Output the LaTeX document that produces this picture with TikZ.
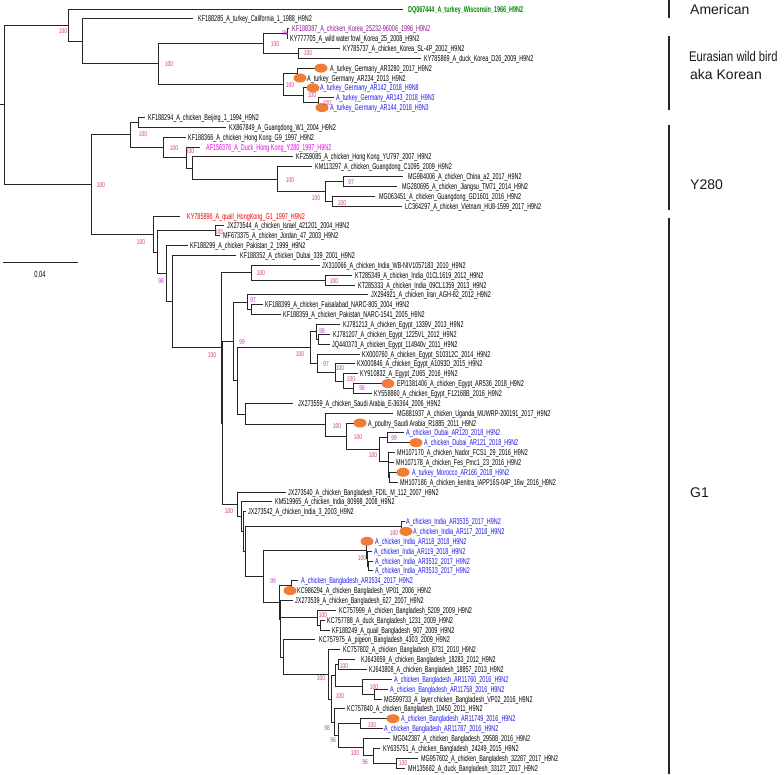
\documentclass[tikz,border=0pt]{standalone}
\usepackage{fontspec}
\setmainfont{Liberation Sans}
\newfontfamily\cond[FakeStretch=0.64]{Liberation Sans}
\newfontfamily\bscond[FakeStretch=0.7]{Liberation Sans}
\newfontfamily\cladecond[FakeStretch=0.8]{Liberation Sans}
\usetikzlibrary{shapes.geometric}
\definecolor{bhi}{RGB}{205,60,120}
\definecolor{blo}{RGB}{185,60,200}
\definecolor{lblue}{RGB}{25,25,225}
\definecolor{lgreen}{RGB}{0,135,0}
\definecolor{lpurple}{RGB}{140,20,140}
\definecolor{lmag}{RGB}{235,0,235}
\definecolor{lred}{RGB}{235,0,0}
\definecolor{mk}{RGB}{240,125,55}
\newcommand\tleaf[6]{%
  \coordinate (e#1) at (#3,#1);
  \draw[br] (#2) |- (e#1);
  \node[lab,#5] (L#1) at (#4,#1) {#6};}
\tikzset{
  br/.style={draw=black!85, line width=0.8pt},
  lab/.style={font=\cond\fontsize{8.5}{9}\selectfont, inner sep=0pt, anchor=base west, yshift=-3pt, text=black},
  bslab/.style={font=\bscond\fontsize{7}{8}\selectfont, inner sep=0pt, text=bhi},
  bslow/.style={bslab, text=blo},
  dotmk/.style={ellipse, fill=mk, draw=none, minimum width=13pt, minimum height=9pt, inner sep=0pt},
  cladetxt/.style={font=\fontsize{14}{16}\selectfont, anchor=west, inner sep=0pt, text=black!90},
  cladebar/.style={line width=1.1pt, black!85}
}
\begin{document}
\begin{tikzpicture}[x=1pt,y=-1pt]
\useasboundingbox (0,0) rectangle (784,774);
\begin{scope}[y=-9.857pt,yshift=0.857pt]
% ---------- internal nodes (x in px, y in leaf index) ----------
\coordinate (root) at (4,10.72);
\coordinate (r0) at (0,10.72);
\coordinate (n68) at (68,2.64);
\coordinate (n82) at (82,4.28);
\coordinate (n158) at (158,6.5625);
\coordinate (kor) at (263,4.5);
\coordinate (n288) at (287,3.5);
\coordinate (n298) at (298,5.5);
\coordinate (ger) at (283,8.625);
\coordinate (n302) at (297,7.5);
\coordinate (g2) at (303,9.75);
\coordinate (g3) at (318,10.5);
\coordinate (n91) at (91,18.8);
\coordinate (n130) at (130,13.77);
\coordinate (n138) at (138,12.5);
\coordinate (n163) at (163,15.03);
\coordinate (n186) at (186,16.06);
\coordinate (n192) at (192,17.125);
\coordinate (n277) at (277,18.25);
\coordinate (n325) at (325,19.5);
\coordinate (n343) at (343,18.5);
\coordinate (n332) at (332,20.5);
\coordinate (n153) at (153,23.84);
\coordinate (n157) at (157,25.67);
\coordinate (n215) at (215,23.5);
\coordinate (n166) at (166,27.84);
\coordinate (n172) at (172,30.69);
\coordinate (nE) at (221,35.37);
\coordinate (n251) at (251,27.75);
\coordinate (n325b) at (325,28.5);
\coordinate (nF) at (222.5,42.99);
\coordinate (n233) at (233,34.73);
\coordinate (n247) at (247,30.75);
\coordinate (n252) at (251,31.5);
\coordinate (n237) at (237,38.71);
\coordinate (egy) at (310,35.34);
\coordinate (n315) at (316,33.75);
\coordinate (n319) at (318,34.5);
\coordinate (n330) at (317,36.94);
\coordinate (n338) at (335,37.875);
\coordinate (n346b) at (343,38.75);
\coordinate (n355) at (353,39.5);
\coordinate (n246) at (245,42.08);
\coordinate (n325c) at (325,43.17);
\coordinate (n346c) at (346,44.34);
\coordinate (n380) at (379,45.69);
\coordinate (n387) at (387,44.5);
\coordinate (nM) at (388,46.875);
\coordinate (n47) at (388.5,47.75);
\coordinate (n48) at (389,48.5);
\coordinate (r50) at (237,51.25);
\coordinate (nP) at (241,52.5);
\coordinate (nQ) at (243,54.01);
\coordinate (nR) at (245,56.02);
\coordinate (n401) at (401,53.5);
\coordinate (n263) at (263,58.53);
\coordinate (nI1) at (366,55.875);
\coordinate (nI2) at (367,56.75);
\coordinate (nI3) at (368,57.5);
\coordinate (nBD) at (279,61.19);
\coordinate (n291) at (291,59.5);
\coordinate (nq) at (280,62.875);
\coordinate (nX) at (280.5,64.75);
\coordinate (nb) at (317,62.75);
\coordinate (na) at (320,63.5);
\coordinate (n283) at (283,66.75);
\coordinate (nB1) at (328,68.49);
\coordinate (nrest) at (331,70.99);
\coordinate (n337b) at (335,68.625);
\coordinate (n337) at (338,67.5);
\coordinate (n362) at (362,69.75);
\coordinate (n374) at (374,70.5);
\coordinate (nL) at (334,73.35);
\coordinate (n338L) at (338,74.69);
\coordinate (n360) at (360,73.5);
\coordinate (n363) at (363,75.875);
\coordinate (n373) at (373,76.75);
\coordinate (n396) at (396,77.5);
% ---------- internal branches ----------
\draw[br] (r0) -- (root);
\foreach \a/\b in {root/n68,root/n91,n68/n82,n82/n158,n158/kor,n158/ger,kor/n288,kor/n298,
  ger/n302,ger/g2,g2/g3,n91/n130,n91/n153,n130/n138,n130/n163,n163/n186,n186/n192,n192/n277,
  n277/n325,n325/n343,n325/n332,n153/n157,n157/n215,n157/n166,n166/n172,n172/nE,nE/n251,nE/nF,
  n251/n325b,nF/n233,nF/r50,n233/n247,n233/n237,n247/n252,n237/egy,n237/n246,egy/n315,egy/n330,
  n315/n319,n330/n338,n338/n346b,n346b/n355,n246/n325c,n325c/n346c,n346c/n380,n380/n387,n380/nM,
  nM/n47,n47/n48,r50/nP,nP/nQ,nQ/nR,nR/n401,nR/n263,n263/nI1,n263/nBD,nI1/nI2,nI2/nI3,
  nBD/n291,nBD/nq,nq/nX,nX/nb,nX/n283,nb/na,n283/nB1,nB1/nrest,nrest/n337b,nrest/nL,
  n337b/n337,n337b/n362,n362/n374,nL/n338L,n338L/n360,n338L/n363,n363/n373,n373/n396}
  {\draw[br] (\a) |- (\b);}
% ---------- leaves ----------
\tleaf{1}{n68}{403}{408}{text=lgreen,font=\cond\bfseries\fontsize{8.5}{9}\selectfont}{DQ067444\_A\_turkey\_Wisconsin\_1966\_H9N2}
\tleaf{2}{n82}{193}{198}{}{KF188285\_A\_turkey\_California\_1\_1988\_H9N2}
\tleaf{3}{n288}{289}{292}{text=lpurple}{KF188387\_A\_chicken\_Korea\_25232-96006\_1996\_H9N2}
\tleaf{4}{n288}{288}{290}{}{KY777705\_A\_wild water fowl\_Korea\_25\_2008\_H9N2}
\tleaf{5}{n298}{340}{343}{}{KY785737\_A\_chicken\_Korea\_SL-4P\_2002\_H9N2}
\tleaf{6}{n298}{421}{424}{}{KY785869\_A\_duck\_Korea\_D26\_2009\_H9N2}
\tleaf{7}{n302}{321}{330}{}{A\_turkey\_Germany\_AR3280\_2017\_H9N2}
\tleaf{8}{n302}{300}{307}{}{A\_turkey\_Germany\_AR234\_2013\_H9N2}
\tleaf{9}{g2}{313}{320}{text=lblue}{A\_turkey\_Germany\_AR142\_2018\_H9N8}
\tleaf{10}{g3}{334}{336}{text=lblue}{A\_turkey\_Germany\_AR143\_2018\_H9N3}
\tleaf{11}{g3}{322}{330}{text=lblue}{A\_turkey\_Germany\_AR144\_2018\_H9N3}
\tleaf{12}{n138}{145}{148}{}{KF188294\_A\_chicken\_Beijing\_1\_1994\_H9N2}
\tleaf{13}{n138}{226}{229}{}{KX867849\_A\_Guangdong\_W1\_2004\_H9N2}
\tleaf{14}{n163}{186}{188}{}{KF188366\_A\_chicken\_Hong Kong\_G9\_1997\_H9N2}
\tleaf{15}{n186}{200}{206}{text=lmag}{AF156376\_A\_Duck\_Hong Kong\_Y280\_1997\_H9N2}
\tleaf{16}{n192}{293}{296}{}{KF259085\_A\_chicken\_Hong Kong\_YU797\_2007\_H9N2}
\tleaf{17}{n277}{312}{315}{}{KM113297\_A\_chicken\_Guangdong\_C1095\_2009\_H9N2}
\tleaf{18}{n343}{403}{408}{}{MG984006\_A\_chicken\_China\_a2\_2017\_H9N2}
\tleaf{19}{n343}{397}{402}{}{MG280695\_A\_chicken\_Jiangsu\_TM71\_2014\_H9N2}
\tleaf{20}{n332}{375}{379}{}{MG063451\_A\_chicken\_Guangdong\_GD1601\_2016\_H9N2}
\tleaf{21}{n332}{402}{405}{}{LC364297\_A\_chicken\_Vietnam\_HU8-1599\_2017\_H9N2}
\tleaf{22}{n153}{180}{187}{text=lred}{KY785896\_A\_quail\_HongKong\_G1\_1997\_H9N2}
\tleaf{23}{n215}{224}{227}{}{JX273544\_A\_chicken\_Israel\_421201\_2004\_H9N2}
\tleaf{24}{n215}{220}{223}{}{MF673375\_A\_chicken\_Jordan\_47\_2003\_H9N2}
\tleaf{25}{n166}{188}{190}{}{KF188299\_A\_chicken\_Pakistan\_2\_1999\_H9N2}
\tleaf{26}{n172}{236}{240}{}{KF188352\_A\_chicken\_Dubai\_339\_2001\_H9N2}
\tleaf{27}{n251}{320}{322}{}{JX310066\_A\_chicken\_India\_WB-NIV1057183\_2010\_H9N2}
\tleaf{28}{n325b}{352}{355}{}{KT285349\_A\_chicken\_India\_01CL1619\_2012\_H9N2}
\tleaf{29}{n325b}{355}{358}{}{KT285333\_A\_chicken\_India\_09CL1359\_2013\_H9N2}
\tleaf{30}{n247}{368}{371}{}{JX294921\_A\_chicken\_Iran\_AGH-82\_2012\_H9N2}
\tleaf{31}{n252}{263}{265}{}{KF188399\_A\_chicken\_Faisalabad\_NARC-805\_2004\_H9N2}
\tleaf{32}{n252}{281}{283}{}{KF188359\_A\_chicken\_Pakistan\_NARC-1541\_2005\_H9N2}
\tleaf{33}{n315}{340}{343}{}{KJ781213\_A\_chicken\_Egypt\_1339V\_2013\_H9N2}
\tleaf{34}{n319}{330}{333}{}{KJ781207\_A\_chicken\_Egypt\_1225VL\_2012\_H9N2}
\tleaf{35}{n319}{330}{332}{}{JQ440373\_A\_chicken\_Egypt\_114940v\_2011\_H9N2}
\tleaf{36}{n330}{360}{362}{}{KX000760\_A\_chicken\_Egypt\_S10312C\_2014\_H9N2}
\tleaf{37}{n338}{355}{357}{}{KX000846\_A\_chicken\_Egypt\_A1093D\_2015\_H9N2}
\tleaf{38}{n346b}{358}{360}{}{KY910832\_A\_Egypt\_ZU65\_2016\_H9N2}
\tleaf{39}{n355}{388}{397}{}{EPI1381406\_A\_chicken\_Egypt\_AR536\_2018\_H9N2}
\tleaf{40}{n355}{372}{374}{}{KY558860\_A\_chicken\_Egypt\_F12168B\_2016\_H9N2}
\tleaf{41}{n246}{293}{298}{}{JX273559\_A\_chicken\_Saudi Arabia\_E-36364\_2006\_H9N2}
\tleaf{42}{n325c}{393}{397}{}{MG881937\_A\_chicken\_Uganda\_MUWRP-200191\_2017\_H9N2}
\tleaf{43}{n346c}{360}{368}{}{A\_poultry\_Saudi Arabia\_R1885\_2011\_H9N2}
\tleaf{44}{n387}{404}{406}{text=lblue}{A\_chicken\_Dubai\_AR120\_2018\_H9N2}
\tleaf{45}{n387}{416}{424}{text=lblue}{A\_chicken\_Dubai\_AR121\_2018\_H9N2}
\tleaf{46}{nM}{395}{397}{}{MH107170\_A\_chicken\_Nador\_FCS1\_29\_2016\_H9N2}
\tleaf{47}{n47}{394}{396}{}{MH107178\_A\_chicken\_Fes\_Pmc1\_23\_2016\_H9N2}
\tleaf{48}{n48}{403}{412}{text=lblue}{A\_turkey\_Morocco\_AR166\_2018\_H9N2}
\tleaf{49}{n48}{398}{400}{}{MH107186\_A\_chicken\_kenitra\_IAPP16S-04P\_16w\_2016\_H9N2}
\tleaf{50}{r50}{286}{288}{}{JX273540\_A\_chicken\_Bangladesh\_FDIL\_M\_112\_2007\_H9N2}
\tleaf{51}{nP}{272}{275}{}{KM519965\_A\_chicken\_India\_80998\_2008\_H9N2}
\tleaf{52}{nQ}{246}{248}{}{JX273542\_A\_chicken\_India\_3\_2003\_H9N2}
\tleaf{53}{n401}{405}{406}{text=lblue}{A\_chicken\_India\_AR3535\_2017\_H9N2}
\tleaf{54}{n401}{406}{413}{text=lblue}{A\_chicken\_India\_AR117\_2018\_H9N2}
\tleaf{55}{nI1}{367}{375}{text=lblue}{A\_chicken\_India\_AR118\_2018\_H9N2}
\tleaf{56}{nI2}{372}{374}{text=lblue}{A\_chicken\_India\_AR119\_2018\_H9N2}
\tleaf{57}{nI3}{373}{375}{text=lblue}{A\_chicken\_India\_AR3532\_2017\_H9N2}
\tleaf{58}{nI3}{373}{375}{text=lblue}{A\_chicken\_India\_AR3533\_2017\_H9N2}
\tleaf{59}{n291}{298}{301}{text=lblue}{A\_chicken\_Bangladesh\_AR3534\_2017\_H9N2}
\tleaf{60}{n291}{291}{297}{}{KC986294\_A\_chicken\_Bangladesh\_VP01\_2006\_H9N2}
\tleaf{61}{nq}{293}{295}{}{JX273539\_A\_chicken\_Bangladesh\_627\_2007\_H9N2}
\tleaf{62}{nb}{336}{339}{}{KC757999\_A\_chicken\_Bangladesh\_5209\_2009\_H9N2}
\tleaf{63}{na}{325}{327}{}{KC757788\_A\_duck\_Bangladesh\_1231\_2009\_H9N2}
\tleaf{64}{na}{330}{332}{}{KF188249\_A\_quail\_Bangladesh\_907\_2009\_H9N2}
\tleaf{65}{n283}{315}{319}{}{KC757975\_A\_pigeon\_Bangladesh\_4303\_2009\_H9N2}
\tleaf{66}{nB1}{340}{343}{}{KC757802\_A\_chicken\_Bangladesh\_8731\_2010\_H9N2}
\tleaf{67}{n337}{355}{361}{}{KJ643659\_A\_chicken\_Bangladesh\_18283\_2012\_H9N2}
\tleaf{68}{n337}{367}{369}{}{KJ643808\_A\_chicken\_Bangladesh\_18857\_2013\_H9N2}
\tleaf{69}{n362}{392}{394}{text=lblue}{A\_chicken\_Bangladesh\_AR11760\_2016\_H9N2}
\tleaf{70}{n374}{388}{390}{text=lblue}{A\_chicken\_Bangladesh\_AR11758\_2016\_H9N2}
\tleaf{71}{n374}{382}{384}{}{MG599733\_A\_layer chicken\_Bangladesh\_VP02\_2016\_H9N2}
\tleaf{72}{nL}{345}{347}{}{KC757840\_A\_chicken\_Bangladesh\_10450\_2011\_H9N2}
\tleaf{73}{n360}{393}{401}{text=lblue}{A\_chicken\_Bangladesh\_AR11749\_2016\_H9N2}
\tleaf{74}{n360}{383}{384}{text=lblue}{A\_chicken\_Bangladesh\_AR11787\_2016\_H9N2}
\tleaf{75}{n363}{390}{393}{}{MG042387\_A\_chicken\_Bangladesh\_29588\_2016\_H9N2}
\tleaf{76}{n373}{380}{383}{}{KY635751\_A\_chicken\_Bangladesh\_24249\_2015\_H9N2}
\tleaf{77}{n396}{418}{421}{}{MG957602\_A\_chicken\_Bangladesh\_32287\_2017\_H9N2}
\tleaf{78}{n396}{405}{408}{}{MH135682\_A\_duck\_Bangladesh\_33127\_2017\_H9N2}
% ---------- highlighted sequences ----------
\foreach \i/\x in {7/321,8/300,9/313,11/322,39/388,43/360,45/416,48/403,54/406,55/367,60/290,73/393}
  {\node[dotmk] (m\i) at (\x,\i) {};}
\end{scope}
% ---------- support values (px) ----------
\node[bslab] (b1) at (63,31) {100};
\node[bslab] (b2) at (169,64) {100};
\node[bslow] (b3) at (285,33) {96};
\node[bslab] (b4) at (275,44) {100};
\node[bslab] (b5) at (308,53) {100};
\node[bslab] (b6) at (290,85) {100};
\node[bslab] (b7) at (312,95) {100};
\node[bslab] (b8) at (327,103) {100};
\node[bslab] (b9) at (143,134) {100};
\node[bslab] (b10) at (101,185) {100};
\node[bslab] (b11) at (174,148) {100};
\node[bslab] (b12) at (190,151) {100};
\node[bslab] (b13) at (290,180) {100};
\node[bslow] (b14) at (351,182) {97};
\node[bslab] (b15) at (316,198) {100};
\node[bslab] (b16) at (342,203) {100};
\node[bslab] (b17) at (141,242) {100};
\node[bslab] (b18) at (219,232) {100};
\node[bslow] (b19) at (161,281) {98};
\node[bslab] (b20) at (261,273) {100};
\node[bslab] (b21) at (334,281) {100};
\node[bslow] (b22) at (253,300) {97};
\node[bslow] (b23) at (242,342) {99};
\node[bslab] (b24) at (212,355) {100};
\node[bslab] (b25) at (300,354) {100};
\node[bslow] (b26) at (322,331) {98};
\node[bslow] (b27) at (326,364) {97};
\node[bslab] (b28) at (340,368) {100};
\node[bslab] (b29) at (351,379) {100};
\node[bslow] (b30) at (362,388) {98};
\node[bslab] (b31) at (337,426) {100};
\node[bslab] (b32) at (358,437) {100};
\node[bslab] (b33) at (373,455) {100};
\node[bslow] (b34) at (394,438) {99};
\node[bslab] (b35) at (229,511) {100};
\node[bslab] (b36) at (394,533) {100};
\node[bslab] (b37) at (362,558) {100};
\node[bslow] (b38) at (273,581) {99};
\node[bslab] (b39) at (323,615) {100};
\node[bslab] (b40) at (321,678) {100};
\node[bslab] (b41) at (344,666) {100};
\node[bslab] (b42) at (374,687) {100};
\node[bslab] (b43) at (340,696) {100};
\node[bslab] (b44) at (372,725) {100};
\node[bslow] (b45) at (327,728) {98};
\node[bslow] (b46) at (333,740) {96};
\node[bslab] (b47) at (355,753) {100};
\node[bslow] (b48) at (365,762) {96};
\node[bslab] (b49) at (403,763) {100};
% ---------- scale bar ----------
\coordinate (sb1) at (3,262);
\coordinate (sb2) at (78,262);
\draw[br] (sb1) -- (sb2);
\node[font=\cond\fontsize{9}{10}\selectfont, inner sep=0pt] (sbl) at (40,274) {0.04};
% ---------- clade annotations ----------
\draw[cladebar] (669,0) -- (669,18);
\draw[cladebar] (669,36) -- (669,110);
\draw[cladebar] (669,125) -- (669,210);
\draw[cladebar] (669,218) -- (669,774);
\node[cladetxt] (cA) at (690,9) {American};
\node[cladetxt, font=\cladecond\fontsize{14}{16}\selectfont] (cE1) at (689,56) {Eurasian wild bird};
\node[cladetxt] (cE2) at (690,74) {aka Korean};
\node[cladetxt] (cY) at (690,185) {Y280};
\node[cladetxt] (cG) at (690,493) {G1};
\end{tikzpicture}
\end{document}
